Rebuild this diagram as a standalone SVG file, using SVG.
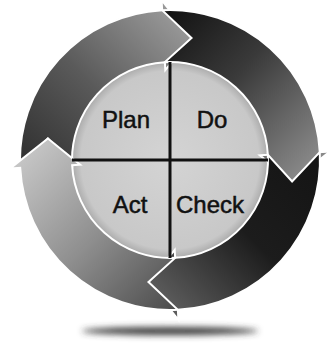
<svg xmlns="http://www.w3.org/2000/svg" xmlns:xlink="http://www.w3.org/1999/xlink" width="327" height="345" viewBox="0 0 327 345">
  <style>
    .lbl { font-family: "Liberation Sans", Arial, sans-serif; font-size: 24px; fill: #111111; stroke: #111111; stroke-width: 0.5; text-anchor: middle; }
    .arrow { stroke: #ffffff; stroke-width: 2; stroke-linejoin: miter; }
    .cross { stroke: #111111; stroke-width: 3; fill: none; }
  </style>
  <defs>
    <path id="arrowShape" d="M -150,0 A 150 150 0 0 1 0,-150 L 0,-160 L 27.9,-120.8 L 0,-90 L 0,-98 A 98 98 0 0 0 -98,0 L -120.8,-27.9 Z"/>
    <linearGradient id="gPlan" gradientUnits="userSpaceOnUse" x1="-150" y1="0" x2="10" y2="-150">
      <stop offset="0" stop-color="#2e2e2e"/>
      <stop offset="0.5" stop-color="#5a5a5a"/>
      <stop offset="1" stop-color="#9a9a9a"/>
    </linearGradient>
    <linearGradient id="gDo" gradientUnits="userSpaceOnUse" x1="-150" y1="0" x2="10" y2="-150">
      <stop offset="0" stop-color="#101010"/>
      <stop offset="0.45" stop-color="#3a3a3a"/>
      <stop offset="1" stop-color="#8c8c8c"/>
    </linearGradient>
    <linearGradient id="gCheck" gradientUnits="userSpaceOnUse" x1="-150" y1="0" x2="10" y2="-150">
      <stop offset="0" stop-color="#141414"/>
      <stop offset="0.5" stop-color="#1c1c1c"/>
      <stop offset="1" stop-color="#5e5e5e"/>
    </linearGradient>
    <linearGradient id="gAct" gradientUnits="userSpaceOnUse" x1="-150" y1="0" x2="10" y2="-150">
      <stop offset="0" stop-color="#4a4a4a"/>
      <stop offset="0.5" stop-color="#8e8e8e"/>
      <stop offset="1" stop-color="#c6c6c6"/>
    </linearGradient>
    <radialGradient id="gInner" cx="0.5" cy="0.5" r="0.5">
      <stop offset="0" stop-color="#d4d4d4"/>
      <stop offset="0.9" stop-color="#c8c8c8"/>
      <stop offset="1" stop-color="#a8a8a8"/>
    </radialGradient>
    <filter id="blur" x="-20%" y="-200%" width="140%" height="500%">
      <feGaussianBlur stdDeviation="3"/>
    </filter>
  </defs>
  <rect width="327" height="345" fill="#ffffff"/>
  <ellipse cx="170" cy="331" rx="88" ry="4" fill="#3a3a3a" filter="url(#blur)"/>
  <circle cx="170" cy="160" r="99" fill="url(#gInner)"/>
  <g id="connectors">
    <use xlink:href="#arrowShape" class="arrow" fill="url(#gPlan)" transform="translate(170,160) rotate(-3)"/>
    <use xlink:href="#arrowShape" class="arrow" fill="url(#gDo)" transform="translate(170,160) rotate(87)"/>
    <use xlink:href="#arrowShape" class="arrow" fill="url(#gCheck)" transform="translate(170,160) rotate(177)"/>
    <use xlink:href="#arrowShape" class="arrow" fill="url(#gAct)" transform="translate(170,160) rotate(267)"/>
  </g>
  <line class="cross" x1="170" y1="62" x2="170" y2="258"/>
  <line class="cross" x1="72" y1="160" x2="268" y2="160"/>
  <g id="plan"><text class="lbl" x="126" y="128">Plan</text></g>
  <g id="do"><text class="lbl" x="212" y="128">Do</text></g>
  <g id="act"><text class="lbl" x="130" y="213">Act</text></g>
  <g id="check"><text class="lbl" x="210" y="213">Check</text></g>
</svg>
